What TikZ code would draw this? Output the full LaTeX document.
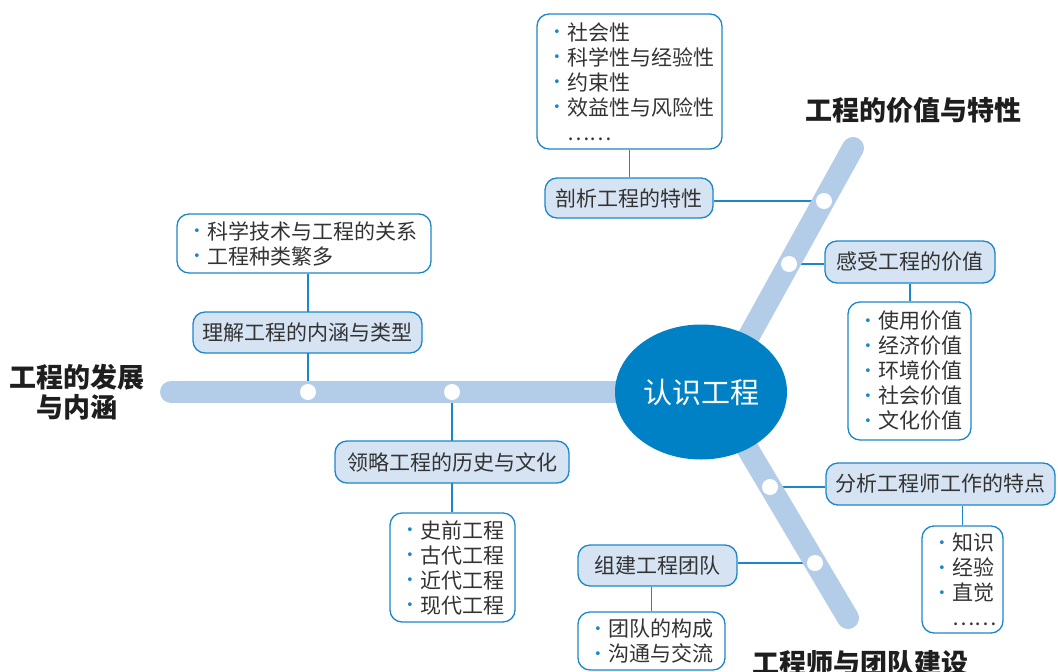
\documentclass[tikz,border=0pt]{standalone}
\usepackage{fontspec}
\setmainfont{Noto Sans CJK SC}
\newfontfamily\dejavu{DejaVu Sans}
\usetikzlibrary{shapes.geometric}
\definecolor{boxfill}{HTML}{D5E3F3}
\definecolor{boxline}{HTML}{1B87C9}
\definecolor{barc}{HTML}{B3CDE9}
\definecolor{ellc}{HTML}{0081C6}
\definecolor{txt}{HTML}{333333}
\definecolor{titlec}{HTML}{1E1E1E}
\pgfdeclarelayer{connlayer}
\pgfdeclarelayer{barlayer}
\pgfsetlayers{connlayer,barlayer,main}
\newcommand\bul{\hspace*{16pt}\makebox[14pt][l]{\raisebox{3.3pt}{\textcolor{boxline}{\dejavu\fontsize{13}{13}\selectfont •}}}}
\newcommand\dts{\hspace*{30pt}……}
\begin{document}
\begin{tikzpicture}[x=1pt,y=-1pt,
  box/.style={draw=boxline, fill=boxfill, line width=1.3pt, rounded corners=12pt, text=txt,
    font=\fontsize{21}{25}\selectfont, inner sep=0pt},
  lst/.style={draw=boxline, fill=white, line width=1.3pt, rounded corners=12pt, text=txt,
    font=\fontsize{21}{25}\selectfont, align=left, inner sep=0pt},
  conn/.style={draw=boxline, line width=1.3pt},
  bar/.style={draw=barc, line width=22pt, line cap=round},
  dot/.style={circle, fill=white, minimum size=16pt, inner sep=0pt},
  ttl/.style={font=\fontsize{27}{30}\selectfont\bfseries, text=titlec, align=center, inner sep=0pt}]
\useasboundingbox (0,0) rectangle (1058,672);

% centre
\node[ellipse, fill=ellc, minimum width=172pt, minimum height=135pt, inner sep=0pt,
  text=white, font=\fontsize{29}{29}\selectfont] (core) at (701,392) {认识工程};

% bars
\coordinate (lend) at (171,392);
\coordinate (ustart) at (718,392);
\coordinate (uend) at (853,148);
\coordinate (dstart) at (714,392);
\coordinate (dend) at (848,618);
\begin{pgfonlayer}{barlayer}
  \draw[bar] (lend) -- (core.center);
  \draw[bar] (ustart) -- (uend);
  \draw[bar] (dstart) -- (dend);
\end{pgfonlayer}

% junction dots
\node[dot] (d1) at (308,392) {};
\node[dot] (d2) at (452,392) {};
\node[dot] (d3) at (824,201) {};
\node[dot] (d4) at (789,264) {};
\node[dot] (d5) at (770,487) {};
\node[dot] (d6) at (815,563) {};

% boxes
\node[box, minimum width=168pt, minimum height=40pt] (b1) at (629,198) {剖析工程的特性};
\node[box, minimum width=170pt, minimum height=42pt] (b2) at (910,262) {感受工程的价值};
\node[box, minimum width=229pt, minimum height=42pt] (b3) at (940.5,484) {分析工程师工作的特点};
\node[box, minimum width=159pt, minimum height=41pt] (b4) at (657.5,565.5) {组建工程团队};
\node[box, minimum width=229pt, minimum height=41pt] (b5) at (307.5,332.5) {理解工程的内涵与类型};
\node[box, minimum width=234pt, minimum height=42pt] (b6) at (452,462) {领略工程的历史与文化};

% lists
\node[lst, text width=185pt, minimum height=135pt] (l1) at (629.5,81.5)
  {\bul 社会性\\\bul 科学性与经验性\\\bul 约束性\\\bul 效益性与风险性\\\dts};
\node[lst, text width=123pt, minimum height=138pt] (l2) at (909.5,371)
  {\bul 使用价值\\\bul 经济价值\\\bul 环境价值\\\bul 社会价值\\\bul 文化价值};
\node[lst, text width=81pt, minimum height=107pt] (l3) at (962.5,579.5)
  {\bul 知识\\\bul 经验\\\bul 直觉\\\dts};
\node[lst, text width=147pt, minimum height=58pt] (l4) at (651.5,641)
  {\bul 团队的构成\\\bul 沟通与交流};
\node[lst, text width=254pt, minimum height=59pt] (l5) at (304,243.5)
  {\bul 科学技术与工程的关系\\\bul 工程种类繁多};
\node[lst, text width=125pt, minimum height=109pt] (l6) at (452.5,567.5)
  {\bul 史前工程\\\bul 古代工程\\\bul 近代工程\\\bul 现代工程};

% connectors
\begin{pgfonlayer}{connlayer}
  \draw[conn] (d3) -- (d3 -| b1.east);
  \draw[conn] (l1.south) -- (l1.south |- b1.north);
  \draw[conn] (d4) -- (d4 -| b2.west);
  \draw[conn] (b2.south) -- (b2.south |- l2.north);
  \draw[conn] (d5) -- (d5 -| b3.west);
  \draw[conn] (l3.north) -- (l3.north |- b3.south);
  \draw[conn] (d6) -- (d6 -| b4.east);
  \draw[conn] (l4.north) -- (l4.north |- b4.south);
  \draw[conn] (d1) -- (d1 |- l5.south);
  \draw[conn] (d2) -- (d2 |- l6.north);
\end{pgfonlayer}

% titles
\node[ttl] (t1) at (913,110) {工程的价值与特性};
\node[ttl] (t2) at (77,392) {工程的发展\\与内涵};
\node[ttl] (t3) at (860,663) {工程师与团队建设};
\end{tikzpicture}
\end{document}
